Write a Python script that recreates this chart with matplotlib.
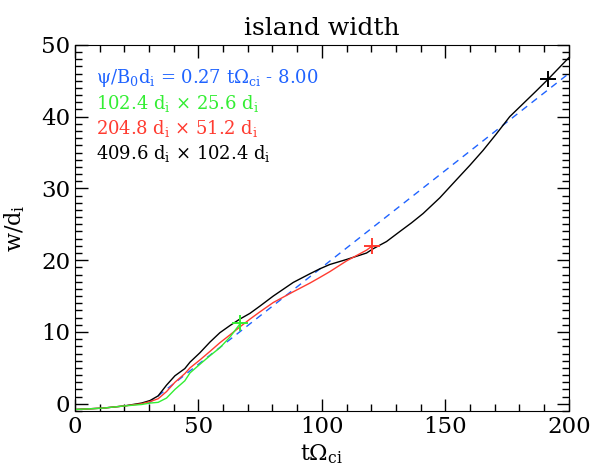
import numpy as np
import matplotlib
matplotlib.use("Agg")
import matplotlib.pyplot as plt
from matplotlib.ticker import MultipleLocator

plt.rcParams["font.family"] = "DejaVu Serif"
plt.rcParams["mathtext.fontset"] = "dejavuserif"

# island width vs time for three box sizes (t in 1/Omega_ci, w in d_i)
t_small = [0, 11.5, 20, 27, 30.4, 33.7, 37.1, 40.5, 44.5, 46.6, 50.6, 54.7, 58.7, 62.8, 67.0]
w_small = [-0.8, -0.6, -0.3, -0.1, 0.1, 0.2, 0.8, 2.0, 3.2, 4.3, 5.5, 6.7, 7.8, 9.3, 11.2]

t_mid = [0, 11.5, 20, 27, 30.4, 33.7, 37.1, 40.5, 44.5, 46.6, 50.6, 54.7, 58.7, 62.8,
         66.8, 70.9, 74.9, 80.3, 88.4, 95.1, 99.2, 103.2, 110.0, 118.1, 120.5]
w_mid = [-0.8, -0.6, -0.3, 0.0, 0.3, 0.7, 1.7, 3.0, 4.2, 5.0, 6.1, 7.3, 8.5, 9.6,
         10.7, 11.8, 12.8, 14.1, 15.6, 16.8, 17.6, 18.4, 19.9, 21.4, 22.0]

t_big = [0, 11.5, 20, 27, 30.4, 33.7, 37.1, 40.5, 44.5, 46.6, 50.6, 54.7, 58.7, 62.8,
         66.8, 70.9, 74.9, 80.3, 88.4, 95.1, 99.2, 103.2, 110.0, 118.1, 120.8, 126.2,
         131.6, 136.3, 141.0, 147.8, 154.5, 159.9, 165.3, 170.7, 176.1, 181.5, 186.9,
         191.6, 200.0]
w_big = [-0.8, -0.6, -0.3, 0.1, 0.45, 1.1, 2.6, 3.9, 4.9, 5.8, 7.1, 8.6, 9.9, 10.9,
         11.8, 12.6, 13.6, 15.0, 16.9, 18.1, 18.8, 19.4, 20.1, 21.0, 21.6, 22.6,
         24.0, 25.2, 26.5, 28.7, 31.2, 33.2, 35.3, 37.6, 40.0, 41.8, 43.6,
         45.2, 48.2]

# linear fit psi/B0 d_i = slope * t - offset
slope = 0.27
offset = 8.00
t_fit = np.array([offset / slope, 200.0])

# end points marked with "+"
end_small = (67.0, 11.2)
end_mid = (120.5, 22.0)
end_big = (191.6, 45.2)

blue = "#1f63ff"
green = "#33ee33"
red = "#ff3b30"

fig = plt.figure(figsize=(5.9, 4.67), dpi=100)
ax = fig.add_axes([0.127, 0.12, 0.837, 0.784])

ax.plot(t_fit, slope * t_fit - offset, color=blue, linestyle=(0, (5, 4)), linewidth=1.0)
ax.plot(t_big, w_big, color="black", linewidth=1.0)
ax.plot(t_mid, w_mid, color=red, linewidth=1.0)
ax.plot(t_small, w_small, color=green, linewidth=1.0)

ax.plot(*end_small, marker="+", color=green, markersize=11, markeredgewidth=1.4)
ax.plot(*end_mid, marker="+", color=red, markersize=11, markeredgewidth=1.4)
ax.plot(*end_big, marker="+", color="black", markersize=11, markeredgewidth=1.4)

ax.set_xlim(0, 200)
ax.set_ylim(-1, 50)
ax.xaxis.set_major_locator(MultipleLocator(50))
ax.xaxis.set_minor_locator(MultipleLocator(10))
ax.yaxis.set_major_locator(MultipleLocator(10))
ax.yaxis.set_minor_locator(MultipleLocator(1))
ax.tick_params(which="both", direction="in", top=True, right=True, labelsize=16.5)
ax.tick_params(which="major", length=9, width=1)
ax.tick_params(which="minor", length=5, width=1)

ax.set_title("island width", fontsize=18, pad=7)
ax.set_xlabel(r"t$\Omega_{\mathrm{ci}}$", fontsize=16, labelpad=3)
ax.set_ylabel(r"w/d$_{\mathrm{i}}$", fontsize=16, labelpad=10)

lines = [
    (r"ψ/B$_0$d$_{\mathrm{i}}$ = 0.27 t$\Omega_{\mathrm{ci}}$ - 8.00", blue),
    (r"102.4 d$_{\mathrm{i}}$ $\times$ 25.6 d$_{\mathrm{i}}$", green),
    (r"204.8 d$_{\mathrm{i}}$ $\times$ 51.2 d$_{\mathrm{i}}$", red),
    (r"409.6 d$_{\mathrm{i}}$ $\times$ 102.4 d$_{\mathrm{i}}$", "black"),
]
for i, (txt, col) in enumerate(lines):
    ax.text(0.043, 0.91 - i * 0.069, txt, color=col, fontsize=13,
            transform=ax.transAxes, va="center", ha="left")

fig.savefig("out.png", dpi=100)
